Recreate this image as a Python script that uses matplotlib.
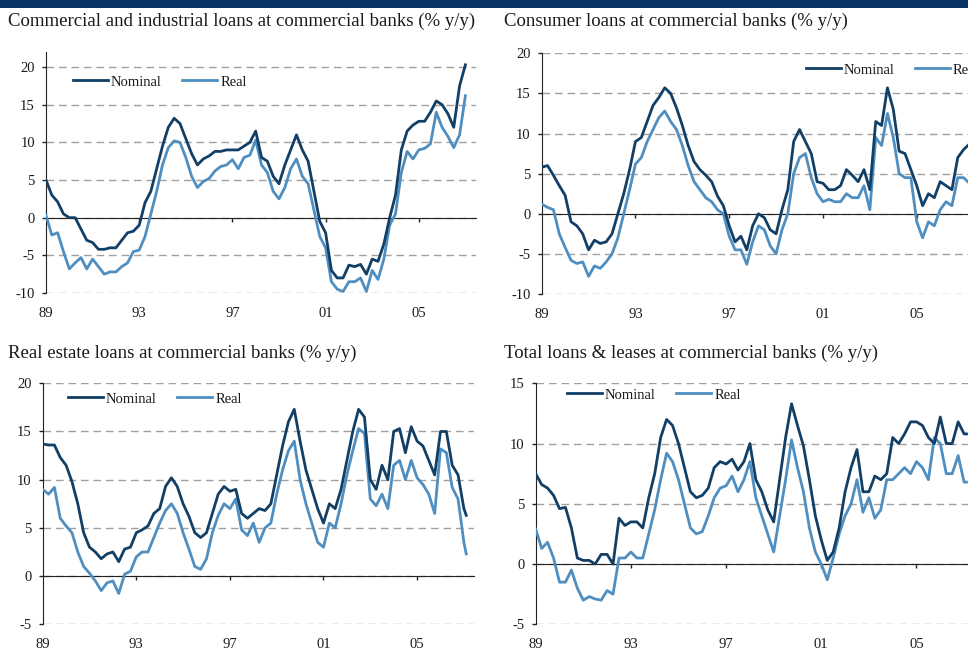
import numpy as np
import matplotlib.pyplot as plt
from matplotlib.patches import Rectangle

plt.rcParams['font.family'] = ['Liberation Serif', 'DejaVu Serif']
plt.rcParams['axes.unicode_minus'] = False

# quarterly sample positions (decimal years)
quarters = list(np.arange(1989, 2007.01, 0.25))
x_ci = quarters
x_cons = quarters + [2007.25]
x_end = quarters + [2007.1]

# Commercial and industrial loans
ci_nom = [5.0, 3.0, 2.1, 0.5, 0.0, 0.0, -1.5, -3.0, -3.3, -4.2, -4.2, -4.0,
          -4.0, -3.0, -2.0, -1.8, -1.0, 2.0, 3.5, 6.5, 9.5, 12.0, 13.2, 12.5,
          10.5, 8.5, 7.0, 7.8, 8.2, 8.8, 8.8, 9.0, 9.0, 9.0, 9.5, 10.0,
          11.5, 8.0, 7.5, 5.5, 4.5, 7.0, 9.0, 11.0, 9.0, 7.5, 3.5, -0.5,
          -2.0, -7.0, -8.0, -8.0, -6.3, -6.5, -6.2, -7.5, -5.5, -5.8, -3.5, 0.0,
          3.0, 9.0, 11.5, 12.3, 12.8, 12.8, 14.0, 15.5, 15.0, 13.8, 12.0, 17.5,
          20.3]
ci_real = [0.3, -2.3, -2.0, -4.5, -6.8, -6.0, -5.3, -6.8, -5.5, -6.5, -7.5, -7.2,
           -7.2, -6.5, -6.0, -4.5, -4.3, -2.5, 0.5, 3.5, 7.0, 9.3, 10.2, 10.0,
           8.0, 5.5, 4.0, 4.8, 5.2, 6.2, 6.8, 7.0, 7.7, 6.5, 8.0, 8.3,
           10.3, 7.0, 6.0, 3.5, 2.5, 4.0, 6.5, 7.8, 5.5, 4.5, 1.0, -2.5,
           -4.0, -8.5, -9.5, -9.8, -8.5, -8.5, -8.0, -9.8, -7.0, -8.2, -5.5, -1.0,
           0.5, 6.0, 8.8, 7.8, 9.0, 9.2, 9.8, 14.0, 12.0, 10.8, 9.3, 11.0,
           16.2]

# Consumer loans
cons_nom = [5.8, 6.0, 4.8, 3.5, 2.3, -1.0, -1.5, -2.5, -4.5, -3.3, -3.7, -3.5,
            -2.5, 0.0, 2.5, 5.5, 9.0, 9.5, 11.5, 13.5, 14.5, 15.7, 15.0, 13.2,
            11.0, 8.5, 6.5, 5.5, 4.8, 4.0, 2.2, 1.0, -1.5, -3.5, -2.8, -4.5,
            -1.5, 0.0, -0.5, -2.0, -2.5, 0.5, 3.0, 9.0, 10.5, 9.0, 7.5, 4.0,
            3.8, 3.0, 3.0, 3.5, 5.5, 4.8, 4.0, 5.5, 3.0, 11.5, 11.0, 15.7,
            13.0, 7.8, 7.5, 5.5, 3.5, 1.0, 2.5, 2.0, 4.0, 3.5, 3.0, 7.0,
            8.0, 8.7]
cons_real = [1.2, 0.8, 0.5, -2.5, -4.2, -5.8, -6.2, -6.0, -7.8, -6.5, -6.8, -6.0,
             -5.0, -3.0, 0.0, 3.0, 6.2, 7.0, 9.0, 10.5, 12.0, 12.8, 11.5, 10.5,
             8.5, 6.0, 4.0, 3.0, 2.0, 1.5, 0.5, 0.0, -2.8, -4.5, -4.5, -6.3,
             -3.5, -1.5, -2.0, -4.0, -5.0, -2.0, 0.0, 5.0, 7.0, 7.5, 4.5, 2.5,
             1.5, 1.8, 1.5, 1.5, 2.5, 2.0, 2.0, 3.5, 0.5, 9.5, 8.5, 12.5,
             9.5, 5.0, 4.5, 4.5, -1.0, -3.0, -1.0, -1.5, 0.5, 1.5, 1.0, 4.5,
             4.5, 3.8]

# Real estate loans
re_nom = [13.7, 13.6, 13.6, 12.3, 11.5, 9.8, 7.5, 4.5, 3.0, 2.5, 1.8, 2.3,
          2.5, 1.5, 2.8, 3.0, 4.5, 4.8, 5.2, 6.5, 7.0, 9.3, 10.2, 9.3,
          7.5, 6.2, 4.5, 4.0, 4.5, 6.5, 8.5, 9.3, 8.8, 9.0, 6.5, 6.0,
          6.5, 7.0, 6.8, 7.5, 10.5, 13.5, 16.0, 17.3, 14.0, 11.0, 9.0, 7.0,
          5.5, 7.5, 7.0, 9.0, 12.0, 15.0, 17.3, 16.5, 10.0, 9.0, 11.5, 10.0,
          15.0, 15.3, 12.8, 15.5, 14.0, 13.5, 12.0, 10.5, 15.0, 15.0, 11.5, 10.5,
          7.0, 6.3]
re_real = [9.0, 8.5, 9.2, 6.0, 5.2, 4.5, 2.5, 1.0, 0.3, -0.5, -1.5, -0.7,
           -0.5, -1.8, 0.2, 0.5, 2.0, 2.5, 2.5, 4.0, 5.5, 6.8, 7.5, 6.5,
           4.5, 2.8, 1.0, 0.7, 1.8, 4.5, 6.3, 7.5, 7.0, 8.0, 4.8, 4.2,
           5.5, 3.5, 5.0, 5.5, 8.5, 11.0, 13.0, 14.0, 10.0, 7.5, 5.5, 3.5,
           3.0, 5.5, 5.0, 7.5, 10.5, 13.0, 15.3, 14.8, 8.0, 7.3, 8.5, 7.0,
           11.5, 12.0, 10.0, 12.0, 10.2, 9.5, 8.5, 6.5, 13.2, 12.8, 9.2, 8.0,
           3.5, 2.3]

# Total loans & leases
tot_nom = [7.5, 6.6, 6.3, 5.7, 4.6, 4.7, 3.0, 0.5, 0.3, 0.3, 0.0, 0.8,
           0.8, 0.0, 3.8, 3.2, 3.5, 3.5, 3.0, 5.5, 7.5, 10.5, 12.0, 11.5,
           10.0, 8.0, 6.0, 5.5, 5.7, 6.3, 8.0, 8.5, 8.3, 8.7, 7.8, 8.5,
           10.0, 7.0, 6.0, 4.5, 3.5, 7.0, 10.5, 13.3, 11.5, 9.8, 7.0, 4.0,
           2.0, 0.3, 1.0, 3.0, 6.0, 8.0, 9.5, 6.0, 6.0, 7.3, 7.0, 7.5,
           10.5, 10.0, 10.8, 11.8, 11.8, 11.5, 10.5, 10.0, 12.2, 10.0, 10.0, 11.8,
           10.8, 10.8]
tot_real = [2.9, 1.3, 1.8, 0.5, -1.5, -1.5, -0.5, -2.0, -3.0, -2.7, -2.9, -3.0,
            -2.2, -2.5, 0.5, 0.5, 1.0, 0.5, 0.5, 2.5, 4.5, 7.0, 9.2, 8.5,
            7.0, 5.0, 3.0, 2.5, 2.7, 4.0, 5.5, 6.3, 6.5, 7.3, 6.0, 7.0,
            8.5, 5.5, 4.0, 2.5, 1.0, 4.0, 7.0, 10.3, 8.0, 6.0, 3.0, 1.0,
            0.0, -1.3, 0.5, 2.5, 4.0, 5.0, 7.0, 4.3, 5.5, 3.8, 4.5, 7.0,
            7.0, 7.5, 8.0, 7.5, 8.5, 8.0, 7.0, 10.5, 10.0, 7.5, 7.5, 9.0,
            6.8, 6.8]

titles = ['Commercial and industrial loans at commercial banks (% y/y)',
          'Consumer loans at commercial banks (% y/y)',
          'Real estate loans at commercial banks (% y/y)',
          'Total loans & leases at commercial banks (% y/y)']
year_ticks = [1989, 1993, 1997, 2001, 2005]
year_labels = ['89', '93', '97', '01', '05']

NOM = '#123f66'
REAL = '#4f8ec0'
TXT = '#1a1a1a'

W, H = 968, 649
fig = plt.figure(figsize=(W / 100, H / 100), dpi=100)

# top banner
fig.add_artist(Rectangle((0, 1 - 8 / H), 1, 8 / H, transform=fig.transFigure,
                         color='#0a3366', lw=0))

# pixel layout: left, top, bottom, px per year, title x/y, legend x/y
panels = [
    dict(x=x_ci, nom=ci_nom, real=ci_real, left=46, top=52, bottom=293, ppy=23.3,
         ylim=(-10, 22), yticks=[-10, -5, 0, 5, 10, 15, 20], tx=8, ty=21, lx=73, ly=82),
    dict(x=x_cons, nom=cons_nom, real=cons_real, left=541.7, top=53.3, bottom=294, ppy=23.44,
         ylim=(-10, 20), yticks=[-10, -5, 0, 5, 10, 15, 20], tx=504, ty=21, lx=805.7, ly=70),
    dict(x=x_end, nom=re_nom, real=re_real, left=42.7, top=383.3, bottom=624.3, ppy=23.4,
         ylim=(-5, 20), yticks=[-5, 0, 5, 10, 15, 20], tx=8, ty=353, lx=68, ly=399),
    dict(x=x_end, nom=tot_nom, real=tot_real, left=535.7, top=383.3, bottom=624.3, ppy=23.8,
         ylim=(-5, 15), yticks=[-5, 0, 5, 10, 15], tx=504, ty=353, lx=567, ly=395),
]

x0, x1 = 1989, 2007.45
for p, title in zip(panels, titles):
    wpx = (x1 - x0) * p['ppy']
    hpx = p['bottom'] - p['top']
    ax = fig.add_axes([p['left'] / W, 1 - p['bottom'] / H, wpx / W, hpx / H])
    ax.plot(p['x'], p['nom'], color=NOM, lw=2.0, label='Nominal', zorder=4)
    ax.plot(p['x'], p['real'], color=REAL, lw=2.0, label='Real', zorder=3)
    ax.set_xlim(x0, x1)
    ax.set_ylim(*p['ylim'])
    ax.set_yticks(p['yticks'])
    ax.yaxis.grid(True, color='#a0a0a0', lw=1, ls=(0, (5.5, 3.5)))
    ax.set_axisbelow(True)
    for s in ['top', 'right']:
        ax.spines[s].set_visible(False)
    ax.spines['bottom'].set_position(('data', 0))
    ax.spines['bottom'].set_color('#222222')
    ax.spines['left'].set_color('#222222')
    ax.set_xticks(year_ticks[1:])
    ax.tick_params(axis='x', direction='out', length=3, width=1, labelbottom=False,
                   color='#222222')
    ax.tick_params(axis='y', direction='out', length=3, width=1, labelsize=10.5,
                   labelcolor=TXT, color='#222222', pad=5)
    for yr, lab in zip(year_ticks, year_labels):
        ax.annotate(lab, xy=(yr, 0), xycoords=('data', 'axes fraction'),
                    xytext=(0, -10), textcoords='offset points', ha='center', va='top',
                    fontsize=10.5, color=TXT, annotation_clip=False)
    ax.legend(loc='center left',
              bbox_to_anchor=((p['lx'] - p['left']) / wpx, (p['bottom'] - p['ly']) / hpx),
              ncol=2, frameon=False, fontsize=10.5, borderpad=0, borderaxespad=0,
              handlelength=2.4, handletextpad=0.2, columnspacing=1.4,
              labelcolor=TXT)
    fig.text(p['tx'] / W, 1 - p['ty'] / H, title, fontsize=13.5, color=TXT,
             ha='left', va='center')

fig.savefig('out.png', dpi=100)
